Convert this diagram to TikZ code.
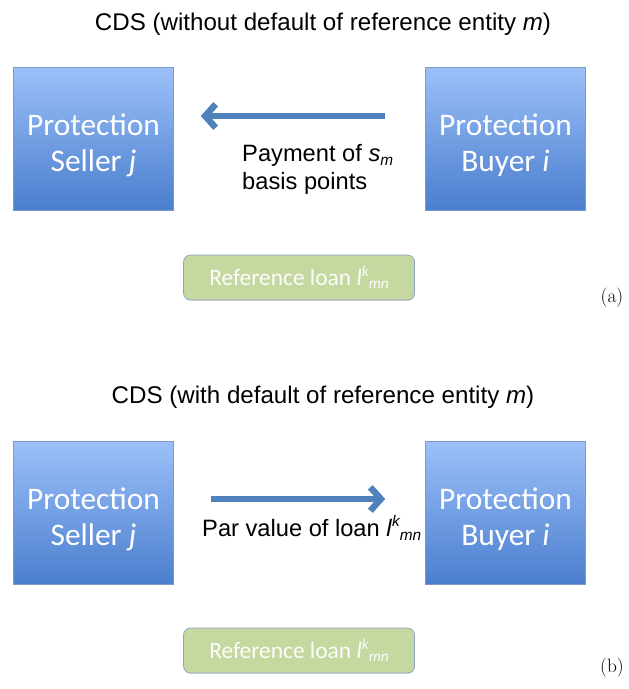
\documentclass[tikz,border=0pt]{standalone}
\usepackage{fontspec}
\newfontfamily\arialfont{Liberation Sans}
\newfontfamily\calfont{Carlito}
\usetikzlibrary{arrows.meta,shadows}

\definecolor{boxtop}{HTML}{9CC0F8}
\definecolor{boxbottom}{HTML}{4A7ECE}
\definecolor{boxline}{HTML}{7D99C6}
\definecolor{loanfill}{HTML}{C5D8A0}
\definecolor{loanline}{HTML}{8CA2C6}
\definecolor{flowblue}{HTML}{4F81BD}

\newcommand{\lowidx}[1]{\raisebox{-0.35ex}{\scalebox{0.65}{\itshape #1}}}
\newcommand{\highidx}[1]{\raisebox{0.75ex}{\scalebox{0.65}{\itshape #1}}}
\newcommand{\loanidx}{\textit{l}\highidx{k}\lowidx{mn}}

\tikzset{
  party/.style={draw=boxline, line width=0.5pt, top color=boxtop, bottom color=boxbottom,
    minimum width=160*0.03cm, minimum height=143*0.03cm, inner sep=0pt,
    text=white, align=center, text height=56pt, text depth=0pt,
    font=\calfont\fontsize{26.8}{30.6}\selectfont,
    drop shadow={opacity=0.25, shadow xshift=0.4pt, shadow yshift=-0.8pt}},
  loan/.style={draw=loanline, line width=0.6pt, fill=loanfill, rounded corners=6pt,
    minimum width=231*0.03cm, minimum height=45*0.03cm, inner sep=0pt,
    text=white!96!loanfill, font=\calfont\fontsize{20}{22}\selectfont,
    drop shadow={opacity=0.25, shadow xshift=0.4pt, shadow yshift=-0.8pt}},
  heading/.style={font=\arialfont\fontsize{20.6}{24}\selectfont},
  caption/.style={font=\arialfont\fontsize{20.2}{23.8}\selectfont, inner sep=0pt},
  flow/.style={draw=flowblue, line width=5.5pt,
    -{Straight Barb[length=9pt, width=20pt, line width=5.5pt]}},
  panel/.style={font=\fontsize{16.5}{19}\selectfont}
}

\begin{document}
\begin{tikzpicture}[x=0.03cm, y=-0.03cm]
\useasboundingbox (0,0) rectangle (629,689);

% (a) no default
\node[heading] (titleA) at (323,24)
	{CDS (without default of reference entity \textit{m})};
\node[party] (sellerA) at (93.5,138.5) {Protection\\Seller \textit{j}};
\node[party] (buyerA) at (505.5,138.5) {Protection\\Buyer \textit{i}};
\node[caption, anchor=north west, align=left] (payA) at (242,144)
	{Payment of \textit{s}\lowidx{m}\\basis points};
\node[loan] (loanA) at (299,277.5) {Reference loan \loanidx};
\node[panel] (capA) at (612,298) {(a)};

\draw[flow, shorten <=40*0.03cm, shorten >=27*0.03cm]
	([yshift=22.5*0.03cm]buyerA.west) -- ([yshift=22.5*0.03cm]sellerA.east);

% (b) default
\node[heading] (titleB) at (323,397)
	{CDS (with default of reference entity \textit{m})};
\node[party] (sellerB) at (93.5,513) {Protection\\Seller \textit{j}};
\node[party] (buyerB) at (505.5,513) {Protection\\Buyer \textit{i}};
\node[caption, anchor=west] (parB) at (202,528)
	{Par value of loan \loanidx};
\node[loan] (loanB) at (299,650.5) {Reference loan \loanidx};
\node[panel] (capB) at (612,668) {(b)};

\draw[flow, shorten <=37*0.03cm, shorten >=40*0.03cm]
	([yshift=14*0.03cm]sellerB.east) -- ([yshift=14*0.03cm]buyerB.west);
\end{tikzpicture}
\end{document}
